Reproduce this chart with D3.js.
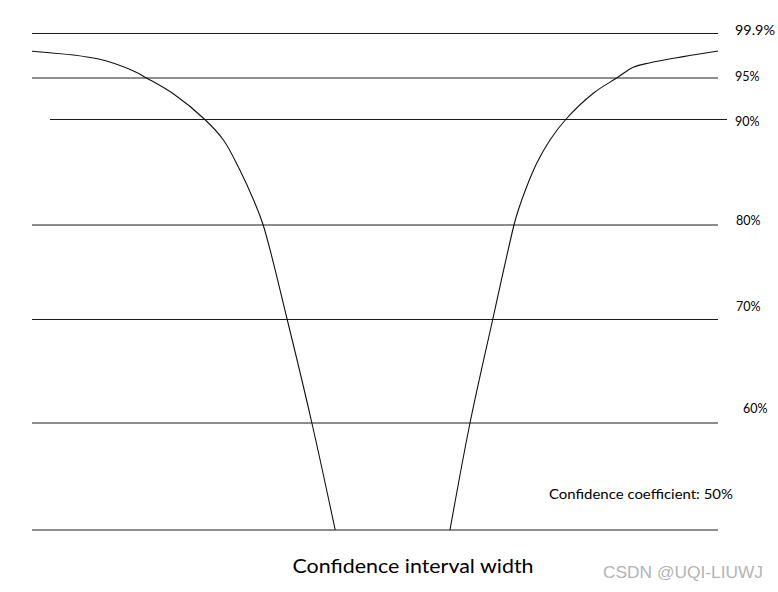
<!DOCTYPE html>
<html>
<head>
<meta charset="utf-8">
<script src="https://cdn.jsdelivr.net/npm/d3@7"></script>
<style>
  html, body { margin: 0; padding: 0; background: #fff; }
  svg { display: block; }
</style>
</head>
<body>
<script>
// ---------------- data ----------------
const levels = [50, 60, 70, 80, 90, 95, 99.9];
const levelLabels = ["Confidence coefficient: 50%", "60%", "70%", "80%", "90%", "95%", "99.9%"];

// left branch of the curve: interval width position (0-100) vs confidence coefficient (%)
const leftWidth = [0, 9.9, 14.8, 16.7, 20.6, 25.2, 27.9, 30.3, 32.3, 33.7, 37.2, 40.8, 44.2];
const leftConf  = [97.94, 97.06, 95.77, 95, 93.1, 90, 88.06, 85.21, 82.37, 80, 70, 60, 50];

// right branch
const rightWidth = [60.93, 63.85, 67.16, 70.26, 70.89, 72.11, 73.57, 75.51, 77.8, 81.82, 85.23, 87.65, 90.09, 94.94, 100];
const rightConf  = [50, 60, 70, 80, 81.42, 83.63, 85.85, 88.06, 90, 93.16, 95, 96.18, 96.68, 97.35, 97.97];

const title = "Confidence interval width";
const watermark = "CSDN @UQI-LIUWJ";

// ---------------- layout ----------------
const W = 778, H = 592;
const svg = d3.select("body").append("svg").attr("width", W).attr("height", H);

const x = d3.scaleLinear().domain([0, 100]).range([32, 718]);
// schematic (non-uniform) vertical spacing of the confidence levels
const y = d3.scaleLinear().domain(levels).range([530, 423, 319.5, 225, 119.5, 78, 33.5]);

const font = "Lato, 'Open Sans', sans-serif";

// horizontal reference lines
const lineExtent = d => d === 90 ? [x.invert(50), x.invert(727)] : [0, 100];
svg.append("g").selectAll("line").data(levels).join("line")
  .attr("x1", d => x(lineExtent(d)[0]))
  .attr("x2", d => x(lineExtent(d)[1]))
  .attr("y1", d => y(d)).attr("y2", d => y(d))
  .attr("stroke", "#1a1a1a").attr("stroke-width", 1);

// level labels
const labelPos = {
  50: {x: 549, dy: -35.5},
  60: {x: 743, dy: -14.5},
  70: {x: 736, dy: -12.8},
  80: {x: 736, dy: -4.3},
  90: {x: 735, dy: 2.2},
  95: {x: 735, dy: -2},
  99.9: {x: 735, dy: -3.5}
};
svg.append("g").selectAll("text").data(levels).join("text")
  .attr("x", d => labelPos[d].x)
  .attr("y", d => y(d) + labelPos[d].dy)
  .attr("dominant-baseline", "central")
  .attr("font-family", font)
  .attr("font-size", 12.5)
  .attr("fill", "#000")
  .text((d, i) => levelLabels[i])
  .each(function(d) {
    if (d === 50) d3.select(this).attr("textLength", 184).attr("lengthAdjust", "spacingAndGlyphs");
    if (d === 99.9) d3.select(this).attr("textLength", 40).attr("lengthAdjust", "spacingAndGlyphs");
  });

// curve
const line = d3.line().x(d => x(d[0])).y(d => y(d[1])).curve(d3.curveCatmullRom.alpha(0.5));
const leftPts = leftWidth.map((w, i) => [w, leftConf[i]]);
const rightPts = rightWidth.map((w, i) => [w, rightConf[i]]);
svg.append("g").selectAll("path").data([leftPts, rightPts]).join("path")
  .attr("d", line)
  .attr("fill", "none")
  .attr("stroke", "#111")
  .attr("stroke-width", 1.1);

// title
svg.append("text")
  .attr("x", 413).attr("y", 565)
  .attr("text-anchor", "middle").attr("dominant-baseline", "central")
  .attr("font-family", font).attr("font-size", 19.5)
  .attr("textLength", 241).attr("lengthAdjust", "spacingAndGlyphs")
  .attr("fill", "#000")
  .text(title);

// watermark
svg.append("text")
  .attr("x", 603).attr("y", 572)
  .attr("dominant-baseline", "central")
  .attr("font-family", "'Liberation Sans', Arial, sans-serif").attr("font-size", 16.5)
  .attr("textLength", 160).attr("lengthAdjust", "spacingAndGlyphs")
  .attr("fill", "#b4b4b4")
  .text(watermark);
</script>
</body>
</html>
